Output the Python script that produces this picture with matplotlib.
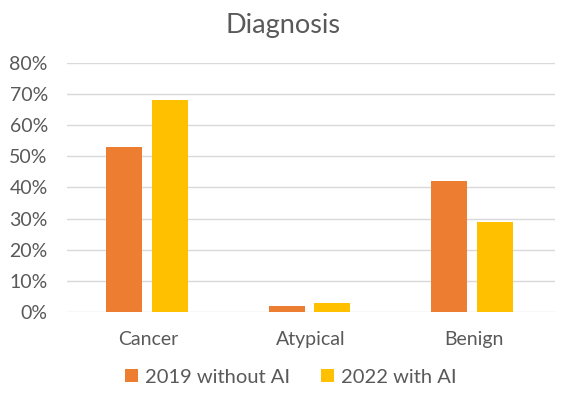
import matplotlib
matplotlib.use("Agg")
import matplotlib.pyplot as plt
import numpy as np
from matplotlib.ticker import PercentFormatter

categories = ["Cancer", "Atypical", "Benign"]
series_names = ["2019 without AI", "2022 with AI"]
values_2019 = [0.53, 0.02, 0.42]
values_2022 = [0.68, 0.03, 0.29]
yticks = [0, 0.1, 0.2, 0.3, 0.4, 0.5, 0.6, 0.7, 0.8]

plt.rcParams['font.family'] = ['Lato', 'DejaVu Sans']
text_color = '#595959'

fig = plt.figure(figsize=(5.65, 3.98), dpi=100)
ax = fig.add_axes([0.119, 0.216, 0.863, 0.626])

x = np.arange(len(categories))
w = 0.22
gap = 0.06
ax.bar(x - (w + gap) / 2 - 0.01, values_2019, w, color='#ED7D31', label=series_names[0], zorder=3)
ax.bar(x + (w + gap) / 2 - 0.01, values_2022, w, color='#FFC000', label=series_names[1], zorder=3)

ax.set_xlim(-0.5, 2.5)
ax.set_ylim(0, 0.8)
ax.set_yticks(yticks)
ax.yaxis.set_major_formatter(PercentFormatter(1.0, decimals=0))
ax.set_xticks(x)
ax.set_xticklabels(categories)
ax.grid(axis='y', color='#D9D9D9', linewidth=1, zorder=0)
for s in ax.spines.values():
    s.set_visible(False)
ax.tick_params(axis='both', length=0, labelsize=14, colors=text_color)
ax.tick_params(axis='x', pad=14)
ax.tick_params(axis='y', pad=14)

fig.text(0.5, 0.935, "Diagnosis", ha='center', va='center', fontsize=19.5, color=text_color)

fig.legend(loc='center', bbox_to_anchor=(0.515, 0.052), ncol=2, frameon=False,
           fontsize=14.5, labelcolor=text_color, handlelength=0.65, handleheight=0.65,
           handletextpad=0.35, columnspacing=1.5)

fig.savefig("out.png", dpi=100, facecolor='white')
